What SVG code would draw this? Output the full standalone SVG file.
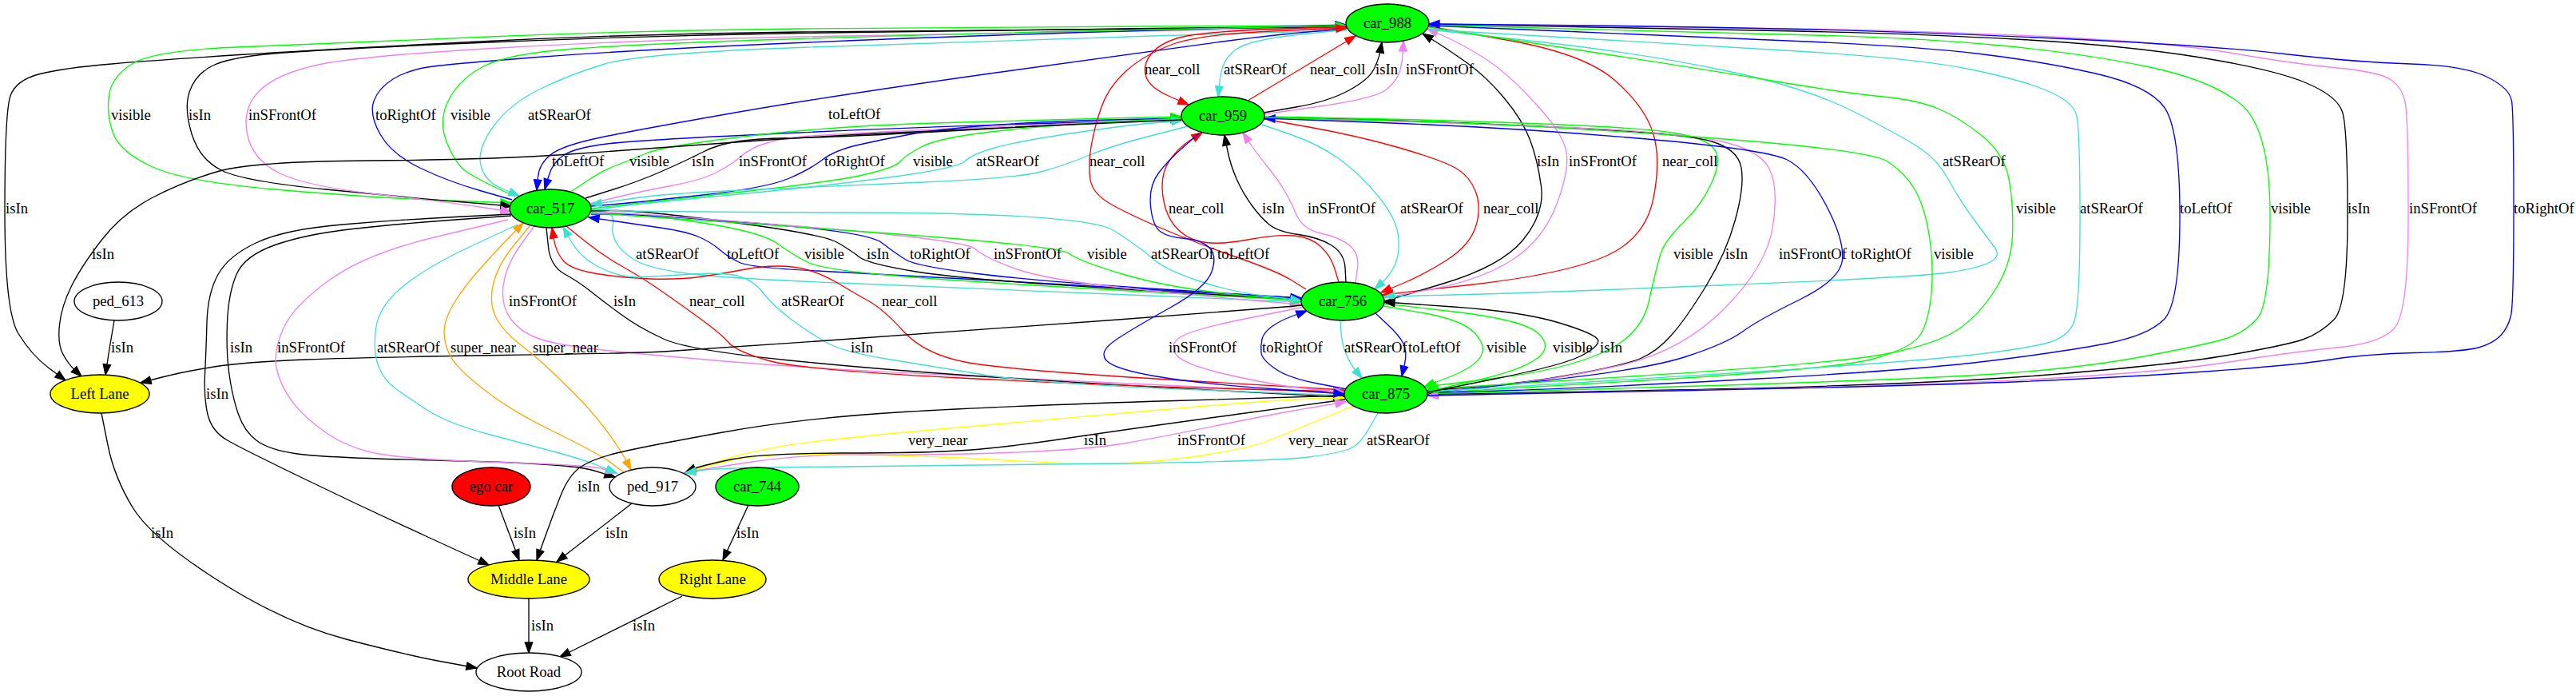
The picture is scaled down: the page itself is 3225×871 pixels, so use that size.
<svg xmlns="http://www.w3.org/2000/svg" width="3225" height="871" viewBox="0 0 3225 871">
<style>
.e{fill:none;stroke-width:1.33}
.k{stroke:#000;marker-end:url(#ak)}
.b{stroke:#00f;marker-end:url(#ab)}
.g{stroke:#0f0;marker-end:url(#ag)}
.r{stroke:#f00;marker-end:url(#ar)}
.c{stroke:#40e0d0;marker-end:url(#ac)}
.v{stroke:#ee82ee;marker-end:url(#av)}
.o{stroke:#ffa500;marker-end:url(#ao)}
.y{stroke:#ff0;marker-end:url(#ay)}
text{font-family:"Liberation Serif","Times New Roman",serif;font-size:18.67px;fill:#000}
.n text{text-anchor:middle}
.n ellipse{stroke:#000;stroke-width:1.33}
</style>
<defs>
<marker id="ak" markerUnits="userSpaceOnUse" markerWidth="16" markerHeight="12" refX="14" refY="6" orient="auto"><path d="M1,1.3 L14,6 L1,10.7 z" fill="#000" stroke="#000" stroke-width="1.3"/></marker>
<marker id="ab" markerUnits="userSpaceOnUse" markerWidth="16" markerHeight="12" refX="14" refY="6" orient="auto"><path d="M1,1.3 L14,6 L1,10.7 z" fill="#00f" stroke="#00f" stroke-width="1.3"/></marker>
<marker id="ag" markerUnits="userSpaceOnUse" markerWidth="16" markerHeight="12" refX="14" refY="6" orient="auto"><path d="M1,1.3 L14,6 L1,10.7 z" fill="#0f0" stroke="#0f0" stroke-width="1.3"/></marker>
<marker id="ar" markerUnits="userSpaceOnUse" markerWidth="16" markerHeight="12" refX="14" refY="6" orient="auto"><path d="M1,1.3 L14,6 L1,10.7 z" fill="#f00" stroke="#f00" stroke-width="1.3"/></marker>
<marker id="ac" markerUnits="userSpaceOnUse" markerWidth="16" markerHeight="12" refX="14" refY="6" orient="auto"><path d="M1,1.3 L14,6 L1,10.7 z" fill="#40e0d0" stroke="#40e0d0" stroke-width="1.3"/></marker>
<marker id="av" markerUnits="userSpaceOnUse" markerWidth="16" markerHeight="12" refX="14" refY="6" orient="auto"><path d="M1,1.3 L14,6 L1,10.7 z" fill="#ee82ee" stroke="#ee82ee" stroke-width="1.3"/></marker>
<marker id="ao" markerUnits="userSpaceOnUse" markerWidth="16" markerHeight="12" refX="14" refY="6" orient="auto"><path d="M1,1.3 L14,6 L1,10.7 z" fill="#ffa500" stroke="#ffa500" stroke-width="1.3"/></marker>
<marker id="ay" markerUnits="userSpaceOnUse" markerWidth="16" markerHeight="12" refX="14" refY="6" orient="auto"><path d="M1,1.3 L14,6 L1,10.7 z" fill="#ff0" stroke="#ff0" stroke-width="1.3"/></marker>
</defs>
<rect x="0" y="0" width="3225" height="871" fill="#fff"/>
<g id="edges">
<path class="e k" d="M1686,34 L1443,36 Q1200,38 1000,40 Q800,42 600,52 Q400,62 300,68.5 Q200,75 140,80 Q80,85 50,92.5 Q20,100 13,120 Q6,140 6,265 Q6,390 23,417.5 Q40,445 61,460.5 L82,476"/>
<path class="e g" d="M1686,32 L1443,33 Q1200,34 1000,36 Q800,38 600,46.5 Q400,55 297,59 Q194,63 167,79 Q140,95 136.5,119 Q133,143 141.5,166.5 Q150,190 190,208.5 Q230,227 344.5,237 Q459,247 549.5,250.5 L640,254"/>
<path class="e k" d="M1686,33 L1443,35.5 Q1200,38 1000,41.5 Q800,45 600,53.5 Q400,62 343,67 Q286,72 265.5,82.5 Q245,93 237.5,114 Q230,135 240,167.5 Q250,200 278,213.5 Q306,227 408,237 Q510,247 575,252.5 L640,258"/>
<path class="e v" d="M1686,35 L1443,38.5 Q1200,42 1000,46 Q800,50 625,60 Q450,70 398.5,81 Q347,92 325,113.5 Q303,135 309.5,167.5 Q316,200 349.5,216.5 Q383,233 472,243 Q561,253 600.5,259 L640,265"/>
<path class="e b" d="M641,250 L601,238.5 Q561,227 525.5,210 Q490,193 476,168 Q462,143 468,126.5 Q474,110 492,99 Q510,88 535.5,84 Q561,80 680.5,71 Q800,62 1000,53.5 Q1200,45 1442.5,38 L1685,31"/>
<path class="e g" d="M645,246 L622.5,235.5 Q600,225 585.5,216 Q571,207 559.5,178.5 Q548,150 562.5,123.5 Q577,97 607.5,82 Q638,67 719,61 Q800,55 1000,48.5 Q1200,42 1442.5,37 L1685,32"/>
<path class="e c" d="M1686,38 L1443,45 Q1200,52 1000,59.5 Q800,67 757,80 Q714,93 676,111.5 Q638,130 617.5,158.5 Q597,187 602,207 Q607,227 628.5,236 L650,245"/>
<path class="e b" d="M1686,36 L1643,39.5 Q1600,43 1526.5,52.5 Q1453,62 1246.5,91 Q1040,120 920,141 Q800,162 752,172 Q704,182 689.5,193.5 Q675,205 673.5,221.5 L672,238"/>
<path class="e b" d="M1480,150 L1340,153.5 Q1200,157 1000,166 Q800,175 760,180 Q720,185 706,194 Q692,203 687,220 L682,237"/>
<path class="e g" d="M716,239 L735.5,226 Q755,213 772.5,206.5 Q790,200 810,191.5 Q830,183 935,170.5 Q1040,158 1170,154 Q1300,150 1389.5,148 L1479,146"/>
<path class="e k" d="M733,248 L766.5,237.5 Q800,227 830.5,213.5 Q861,200 880.5,190 Q900,180 926.5,176.5 Q953,173 996.5,172.5 Q1040,172 1170,165 Q1300,158 1389.5,153 L1479,148"/>
<path class="e v" d="M738,255 L769,247.5 Q800,240 840,232.5 Q880,225 898.5,215 Q917,205 928.5,195 Q940,185 959.5,179 Q979,173 1009.5,170.5 Q1040,168 1170,162 Q1300,156 1389.5,152.5 L1479,149"/>
<path class="e b" d="M740,258 L770,255.5 Q800,253 880,244 Q960,235 987,223.5 Q1014,212 1029.5,200 Q1045,188 1076,181 Q1107,174 1140,168 Q1173,162 1236.5,157 Q1300,152 1389.5,150 L1479,148"/>
<path class="e g" d="M740,261 L770,257.5 Q800,254 920,241 Q1040,228 1080,219 Q1120,210 1126.5,202.5 Q1133,195 1153,184 Q1173,173 1240,165 Q1307,157 1393,152.5 L1479,148"/>
<path class="e c" d="M740,263 L770,259 Q800,255 920,243.5 Q1040,232 1120,221 Q1200,210 1208.5,201.5 Q1217,193 1245,185 Q1273,177 1340,167 Q1407,157 1443.5,154 L1480,151"/>
<path class="e c" d="M1487,158 L1438.5,170.5 Q1390,183 1361.5,195 Q1333,207 1303,215 Q1273,223 1156.5,228 Q1040,233 940,237.5 Q840,242 810,246 Q780,250 760,253 L740,256"/>
<path class="e r" d="M1686,33 L1593,36.5 Q1500,40 1475,47.5 Q1450,55 1440,69 Q1430,83 1435,96.5 Q1440,110 1464,120.5 L1488,131"/>
<path class="e c" d="M1686,37 L1624.5,43.5 Q1563,50 1546.5,62.5 Q1530,75 1527.5,98 L1525,121"/>
<path class="e r" d="M1562,126 L1697,45"/>
<path class="e k" d="M1582,141 L1622.5,134 Q1663,127 1688,113.5 Q1713,100 1719.5,87.5 Q1726,75 1728,64 L1730,53"/>
<path class="e v" d="M1582,143 L1652.5,133 Q1723,123 1736.5,111.5 Q1750,100 1753,87.5 Q1756,75 1756.5,63 L1757,51"/>
<path class="e r" d="M1635,362 L1617.5,351 Q1600,340 1550,322.5 Q1500,305 1458.5,287.5 Q1417,270 1392.5,256.5 Q1368,243 1365,225 Q1362,207 1366,183.5 Q1370,160 1378.5,135 Q1387,110 1408.5,90 Q1430,70 1465,56.5 Q1500,43 1593,39 L1686,35"/>
<path class="e r" d="M1676,353 L1671,336.5 Q1666,320 1653.5,308.5 Q1641,297 1620.5,295 Q1600,293 1562,300 Q1524,307 1503.5,302.5 Q1483,298 1470.5,282.5 Q1458,267 1455.5,242 Q1453,217 1464,201 Q1475,185 1490,175.5 L1505,166"/>
<path class="e k" d="M1685,353 L1684,335 Q1683,317 1667,307 Q1651,297 1625.5,293.5 Q1600,290 1589,281 Q1578,272 1566.5,256 Q1555,240 1547.5,222.5 Q1540,205 1536.5,187 L1533,169"/>
<path class="e v" d="M1697,354 L1699.5,335.5 Q1702,317 1689.5,307 Q1677,297 1654,292 Q1631,287 1623,268.5 Q1615,250 1607.5,237.5 Q1600,225 1586,207.5 Q1572,190 1564,178 L1556,166"/>
<path class="e c" d="M1580,156 L1615,168 Q1650,180 1676,198.5 Q1702,217 1725,245 Q1748,273 1750.5,295 Q1753,317 1746.5,331 Q1740,345 1730.5,353.5 L1721,362"/>
<path class="e r" d="M1583,149 L1641.5,159.5 Q1700,170 1752,185 Q1804,200 1822,210 Q1840,220 1847.5,240 Q1855,260 1847.5,283.5 Q1840,307 1812,325 Q1784,343 1756.5,354.5 L1729,366"/>
<path class="e r" d="M1789,33 L1886,50 Q1983,67 2021,100 Q2059,133 2069.5,166.5 Q2080,200 2069.5,250 Q2059,300 2008,321.5 Q1957,343 1844,356 L1731,369"/>
<path class="e k" d="M1733,377 L1806.5,355 Q1880,333 1907,300 Q1934,267 1929.5,233.5 Q1925,200 1915.5,175 Q1906,150 1883,122.5 Q1860,95 1835,77.5 Q1810,60 1795.5,51 L1781,42"/>
<path class="e v" d="M1733,373 L1794,361.5 Q1855,350 1893.5,325 Q1932,300 1948.5,256.5 Q1965,213 1961,190 Q1957,167 1921.5,128.5 Q1886,90 1858,72.5 Q1830,55 1808.5,45.5 L1787,36"/>
<path class="e c" d="M1789,37 L1924,52 Q2059,67 2161,88.5 Q2263,110 2321.5,140 Q2380,170 2403,185 Q2426,200 2439.5,225 Q2453,250 2471.5,275 Q2490,300 2497.5,310 Q2505,320 2492.5,327.5 Q2480,335 2440,341 Q2400,347 2153,357 Q1906,367 1819.5,369 L1733,371"/>
<path class="e g" d="M1583,146 L1691.5,148 Q1800,150 1929.5,155 Q2059,160 2097.5,166.5 Q2136,173 2146,186.5 Q2156,200 2143,228.5 Q2130,257 2107.5,278.5 Q2085,300 2079.5,316.5 Q2074,333 2064.5,376.5 Q2055,420 2006,441.5 Q1957,463 1871,473.5 L1785,484"/>
<path class="e k" d="M1583,147 L1691.5,149.5 Q1800,152 1955,159.5 Q2110,167 2143,177 Q2176,187 2180,210 Q2184,233 2172.5,275 Q2161,317 2135.5,358.5 Q2110,400 2092,420 Q2074,440 2054,448.5 Q2034,457 1970,468.5 Q1906,480 1846.5,484.5 L1787,489"/>
<path class="e v" d="M1583,148 L1691.5,150.5 Q1800,153 1950,159 Q2100,165 2151,176 Q2202,187 2214.5,210 Q2227,233 2219.5,283 Q2212,333 2158.5,386.5 Q2105,440 2027.5,457.5 Q1950,475 1868.5,483 L1787,491"/>
<path class="e b" d="M1787,492 L1923,477.5 Q2059,463 2110,446.5 Q2161,430 2181.5,415 Q2202,400 2253,375 Q2304,350 2306.5,325 Q2309,300 2286,256.5 Q2263,213 2237.5,200 Q2212,187 2056,173.5 Q1900,160 1741.5,154 L1583,148"/>
<path class="e g" d="M1583,147 L1741.5,151 Q1900,155 2120,171 Q2340,187 2363,202 Q2386,217 2398,238.5 Q2410,260 2415.5,296.5 Q2421,333 2418,366.5 Q2415,400 2405,417.5 Q2395,435 2347.5,448.5 Q2300,462 2043.5,477 L1787,492"/>
<path class="e g" d="M1789,34 L1949.5,58.5 Q2110,83 2212,100 Q2314,117 2357,121 Q2400,125 2426.5,136 Q2453,147 2481.5,170 Q2510,193 2515.5,226.5 Q2521,260 2519.5,295 Q2518,330 2498.5,361.5 Q2479,393 2452.5,411.5 Q2426,430 2363,442.5 Q2300,455 2043.5,471 L1787,487"/>
<path class="e c" d="M1789,37 L1944.5,46 Q2100,55 2250,64 Q2400,73 2465.5,86.5 Q2531,100 2563,113.5 Q2595,127 2599.5,143.5 Q2604,160 2604,271.5 Q2604,383 2596.5,403 Q2589,423 2560,430 Q2531,437 2465.5,444.5 Q2400,452 2200,465 Q2000,478 1893.5,484 L1787,490"/>
<path class="e b" d="M1789,32 L1944.5,38.5 Q2100,45 2250,51.5 Q2400,58 2479,67.5 Q2558,77 2623.5,92 Q2689,107 2709,133.5 Q2729,160 2729,270 Q2729,380 2709,400 Q2689,420 2636.5,430 Q2584,440 2492,451.5 Q2400,463 2200,474 Q2000,485 1893.5,488.5 L1787,492"/>
<path class="e g" d="M1789,31 L1944.5,35.5 Q2100,40 2250,43.5 Q2400,47 2505,57 Q2610,67 2689,83.5 Q2768,100 2805,130 Q2842,160 2842,270 Q2842,380 2826,398.5 Q2810,417 2784,424.5 Q2758,432 2684,446 Q2610,460 2505,467.5 Q2400,475 2093.5,484 L1787,493"/>
<path class="e k" d="M1789,30 L1944.5,33 Q2100,36 2250,39 Q2400,42 2531.5,49.5 Q2663,57 2755,72 Q2847,87 2886.5,103.5 Q2926,120 2932.5,140 Q2939,160 2939,271.5 Q2939,383 2922,400 Q2905,417 2884,424.5 Q2863,432 2789.5,444.5 Q2716,457 2558,469.5 Q2400,482 2093.5,488 L1787,494"/>
<path class="e v" d="M1789,30 L1944.5,32 Q2100,34 2250,36 Q2400,38 2558,45.5 Q2716,53 2794.5,66.5 Q2873,80 2926,85 Q2979,90 2993.5,100 Q3008,110 3011.5,130 Q3015,150 3015,271.5 Q3015,393 2997,411.5 Q2979,430 2926,435 Q2873,440 2794.5,452.5 Q2716,465 2558,474 Q2400,483 2093.5,489 L1787,495"/>
<path class="e b" d="M1787,495 L2093.5,489 Q2400,483 2531.5,477.5 Q2663,472 2768,464.5 Q2873,457 2918,450 Q2963,443 3023.5,441.5 Q3084,440 3102.5,435 Q3121,430 3130.5,420 Q3140,410 3143.5,395 Q3147,380 3147,261.5 Q3147,143 3144.5,126.5 Q3142,110 3113,96 Q3084,82 3018,80 Q2952,78 2860,67.5 Q2768,57 2584,48.5 Q2400,40 2250,36.5 Q2100,33 1944.5,31.5 L1789,30"/>
<path class="e c" d="M741,262 L755.5,265 Q770,268 767.5,280 Q765,292 771.5,303.5 Q778,315 794,325 Q810,335 855,341.5 Q900,348 1050,354 Q1200,360 1414.5,369 L1629,378"/>
<path class="e b" d="M1629,373 L1514.5,366.5 Q1400,360 1253,351.5 Q1106,343 1023,339 Q940,335 926,328.5 Q912,322 901,312.5 Q890,303 875,296.5 Q860,290 830,285.5 Q800,281 768.5,276.5 L737,272"/>
<path class="e g" d="M740,266 L770,266.5 Q800,267 876.5,278.5 Q953,290 973.5,305 Q994,320 1012,328.5 Q1030,337 1115,344.5 Q1200,352 1414.5,364 L1629,376"/>
<path class="e k" d="M740,264 L770,263.5 Q800,263 915,278 Q1030,293 1047.5,303 Q1065,313 1075.5,321.5 Q1086,330 1147,340 Q1208,350 1418.5,362.5 L1629,375"/>
<path class="e b" d="M740,268 L770,268 Q800,268 943,279 Q1086,290 1103.5,303.5 Q1121,317 1134,325 Q1147,333 1223.5,342.5 Q1300,352 1464.5,362.5 L1629,373"/>
<path class="e v" d="M740,266 L770,266.5 Q800,267 1004,283.5 Q1208,300 1221,311.5 Q1234,323 1272,336.5 Q1310,350 1405,360 Q1500,370 1564,375.5 L1628,381"/>
<path class="e g" d="M740,267 L770,268.5 Q800,270 1062.5,288.5 Q1325,307 1338,317 Q1351,327 1407,343.5 Q1463,360 1546,368.5 L1629,377"/>
<path class="e c" d="M741,262 L770.5,263.5 Q800,265 1080.5,266 Q1361,267 1394.5,288.5 Q1428,310 1443,323.5 Q1458,337 1499,351 Q1540,365 1584.5,370.5 L1629,376"/>
<path class="e v" d="M668,284 L650.5,308.5 Q633,333 630,358 Q627,383 640,400 Q653,417 676.5,424.5 Q700,432 750,437.5 Q800,443 900,451.5 Q1000,460 1200,470 Q1400,480 1541.5,486 L1683,492"/>
<path class="e k" d="M684,285 L686.5,309 Q689,333 707,343 Q725,353 740,365 Q755,377 777.5,393.5 Q800,410 830.5,424 Q861,438 983.5,450.5 Q1106,463 1253,472.5 Q1400,482 1541.5,489.5 L1683,497"/>
<path class="e r" d="M709,283 L732,301.5 Q755,320 777.5,332.5 Q800,345 820.5,359 Q841,373 871.5,395 Q902,417 912,428.5 Q922,440 963,451.5 Q1004,463 1202,473 Q1400,483 1541.5,486.5 L1683,490"/>
<path class="e r" d="M1683,488 L1471,475.5 Q1259,463 1208,453 Q1157,443 1131.5,415 Q1106,387 1088,377 Q1070,367 1050,355 Q1030,343 1012,338 Q994,333 973.5,333 Q953,333 927.5,338 Q902,343 876,346.5 Q850,350 815,349 Q780,348 747,342.5 Q714,337 705,326 Q696,315 693.5,300 L691,285"/>
<path class="e c" d="M1683,495 L1491.5,487.5 Q1300,480 1228.5,468.5 Q1157,457 1106,448.5 Q1055,440 1034.5,428.5 Q1014,417 991,400 Q968,383 955.5,366.5 Q943,350 922.5,345 Q902,340 851,344 Q800,348 782.5,345.5 Q765,343 745,331.5 Q725,320 715,302 L705,284"/>
<path class="e v" d="M1633,384 L1561,398.5 Q1489,413 1476,423 Q1463,433 1473.5,445 Q1484,457 1542,470 Q1600,483 1641.5,487 L1683,491"/>
<path class="e b" d="M1686,487 L1649.5,480 Q1613,473 1596.5,461.5 Q1580,450 1579,441.5 Q1578,433 1580,424.5 Q1582,416 1592.5,408.5 Q1603,401 1619.5,395 L1636,389"/>
<path class="e c" d="M1678,401 L1679,415.5 Q1680,430 1685,442.5 Q1690,455 1697.5,464 L1705,473"/>
<path class="e b" d="M1722,392 L1737,406 Q1752,420 1757,430 Q1762,440 1758.5,455.5 L1755,471"/>
<path class="e g" d="M1732,383 L1781,391.5 Q1830,400 1846,416.5 Q1862,433 1853.5,446.5 Q1845,460 1814,472 L1783,484"/>
<path class="e g" d="M1733,380 L1819.5,390 Q1906,400 1925,416.5 Q1944,433 1925,448 Q1906,463 1846.5,476.5 L1787,490"/>
<path class="e k" d="M1787,491 L1872,474 Q1957,457 1980,445 Q2003,433 2000.5,425.5 Q1998,418 1952,404 Q1906,390 1819.5,384 L1733,378"/>
<path class="e k" d="M1630,382 L1615,383.5 Q1600,385 1400,400 Q1200,415 1030.5,426.5 Q861,438 830.5,440 Q800,442 629.5,444.5 Q459,447 382.5,450 Q306,453 268,459 Q230,465 203,472 L176,479"/>
<path class="e k" d="M1479,150 L1339.5,156 Q1200,162 1100,167 Q1000,172 900,179.5 Q800,187 706,193.5 Q612,200 464,201 Q316,202 273,214.5 Q230,227 191.5,247 Q153,267 127.5,300 Q102,333 89.5,358 Q77,383 74.5,406.5 Q72,430 78.5,442.5 Q85,455 93.5,463 L102,471"/>
<path class="e k" d="M143,401 Q137,435 132,469"/>
<path class="e k" d="M127,517 L135,557 Q143,597 166,635 Q189,673 273,726.5 Q357,780 433.5,800 Q510,820 553.5,828 L597,836"/>
<path class="e k" d="M624,632 L650,701"/>
<path class="e k" d="M791,630 L697,703"/>
<path class="e k" d="M937,632 L905,701"/>
<path class="e k" d="M662,749 L662,817"/>
<path class="e k" d="M854,746 L701,822"/>
<path class="e k" d="M640,268 L570,271.5 Q500,275 428.5,281 Q357,287 321.5,303.5 Q286,320 273,343.5 Q260,367 259,403.5 Q258,440 256.5,468.5 Q255,497 260,518.5 Q265,540 285.5,551.5 Q306,563 382.5,600 Q459,637 535.5,672 L612,707"/>
<path class="e k" d="M640,270 L570,275 Q500,280 441.5,286.5 Q383,293 344.5,306.5 Q306,320 296,343.5 Q286,367 284.5,403.5 Q283,440 287,468.5 Q291,497 298.5,518.5 Q306,540 321.5,551.5 Q337,563 372.5,568 Q408,573 561,576.5 Q714,580 742,588.5 L770,597"/>
<path class="e v" d="M636,275 L547.5,296 Q459,317 413,350 Q367,383 354.5,411.5 Q342,440 346,460 Q350,480 364,500 Q378,520 406,540 Q434,560 472,567.5 Q510,575 625,578.5 Q740,582 756,587 L772,592"/>
<path class="e c" d="M648,281 L592,307 Q536,333 505,358 Q474,383 470.5,411.5 Q467,440 473.5,457.5 Q480,475 495,486 Q510,497 535.5,513.5 Q561,530 612,543.5 Q663,557 696.5,566 Q730,575 751,583.5 L772,592"/>
<path class="e o" d="M781,591 L760.5,576 Q740,563 689,538 Q638,513 604.5,486.5 Q571,460 563.5,445 Q556,430 556,415 Q556,400 568,380 Q580,360 600,337.5 Q620,315 637.5,297 L655,279"/>
<path class="e o" d="M663,283 L642.5,308 Q622,333 617,358 Q612,383 622.5,400 Q633,417 648,428.5 Q663,440 676,451.5 Q689,463 714.5,488 Q740,513 757.5,536.5 Q775,560 782.5,574 L790,588"/>
<path class="e y" d="M858,591 L905.5,575.5 Q953,560 1029.5,551.5 Q1106,543 1182.5,536.5 Q1259,530 1429.5,515 Q1600,500 1642,499 L1684,498"/>
<path class="e y" d="M1694,508 L1647,527.5 Q1600,547 1582.5,553.5 Q1565,560 1514,568.5 Q1463,577 1412,579.5 Q1361,582 1259,576 Q1157,570 1055,568.5 Q953,567 915,576 Q877,585 867.5,588.5 L858,592"/>
<path class="e k" d="M1684,500 L1548,518.5 Q1412,537 1335.5,548.5 Q1259,560 1208,563.5 Q1157,567 1055,567 Q953,567 915,575 Q877,583 867.5,587 L858,591"/>
<path class="e v" d="M858,591 L931,579.5 Q1004,568 1080.5,569 Q1157,570 1259,566.5 Q1361,563 1407,555 Q1453,547 1526.5,532 Q1600,517 1642.5,510 L1685,503"/>
<path class="e c" d="M1725,517 L1713.5,537 Q1702,557 1689,562 Q1676,567 1638,572 Q1600,577 1404,580 Q1208,583 1054,584 Q900,585 879,588.5 L858,592"/>
<path class="e k" d="M1683,495 L1471,501.5 Q1259,508 1131.5,515.5 Q1004,523 902,541.5 Q800,560 770,567.5 Q740,575 726,585 Q712,595 702,620 Q692,645 682,673 L672,701"/>
<path class="e b" d="M1501,167 L1482,183.5 Q1463,200 1450.5,216.5 Q1438,233 1440.5,258 Q1443,283 1453,290 Q1463,297 1483.5,298.5 Q1504,300 1514,310 Q1524,320 1517,340 Q1510,360 1465,385 Q1420,410 1397.5,425 Q1375,440 1385,451 Q1395,462 1447.5,471 Q1500,480 1591.5,486.5 L1683,493"/>
</g>
<g id="edge-labels">
<text x="1433" y="93">near_coll</text>
<text x="1532" y="93">atSRearOf</text>
<text x="1640" y="93">near_coll</text>
<text x="1722" y="93">isIn</text>
<text x="1760" y="93">inSFrontOf</text>
<text x="139" y="150">visible</text>
<text x="236" y="150">isIn</text>
<text x="311" y="150">inSFrontOf</text>
<text x="470" y="150">toRightOf</text>
<text x="564" y="150">visible</text>
<text x="661" y="150">atSRearOf</text>
<text x="1037" y="149">toLeftOf</text>
<text x="691" y="208">toLeftOf</text>
<text x="788" y="208">visible</text>
<text x="866" y="208">isIn</text>
<text x="925" y="208">inSFrontOf</text>
<text x="1032" y="208">toRightOf</text>
<text x="1143" y="208">visible</text>
<text x="1222" y="208">atSRearOf</text>
<text x="1364" y="208">near_coll</text>
<text x="1924" y="208">isIn</text>
<text x="1964" y="208">inSFrontOf</text>
<text x="2081" y="208">near_coll</text>
<text x="2432" y="208">atSRearOf</text>
<text x="7" y="267">isIn</text>
<text x="1463" y="267">near_coll</text>
<text x="1580" y="267">isIn</text>
<text x="1637" y="267">inSFrontOf</text>
<text x="1753" y="267">atSRearOf</text>
<text x="1857" y="267">near_coll</text>
<text x="2524" y="267">visible</text>
<text x="2604" y="267">atSRearOf</text>
<text x="2729" y="267">toLeftOf</text>
<text x="2843" y="267">visible</text>
<text x="2939" y="267">isIn</text>
<text x="3016" y="267">inSFrontOf</text>
<text x="3147" y="267">toRightOf</text>
<text x="115" y="324">isIn</text>
<text x="796" y="324">atSRearOf</text>
<text x="910" y="324">toLeftOf</text>
<text x="1007" y="324">visible</text>
<text x="1085" y="324">isIn</text>
<text x="1139" y="324">toRightOf</text>
<text x="1244" y="324">inSFrontOf</text>
<text x="1361" y="324">visible</text>
<text x="1441" y="324">atSRearOf</text>
<text x="1524" y="324">toLeftOf</text>
<text x="2095" y="324">visible</text>
<text x="2160" y="324">isIn</text>
<text x="2227" y="324">inSFrontOf</text>
<text x="2317" y="324">toRightOf</text>
<text x="2421" y="324">visible</text>
<text x="637" y="383">inSFrontOf</text>
<text x="768" y="383">isIn</text>
<text x="863" y="383">near_coll</text>
<text x="978" y="383">atSRearOf</text>
<text x="1104" y="383">near_coll</text>
<text x="139" y="441">isIn</text>
<text x="288" y="441">isIn</text>
<text x="347" y="441">inSFrontOf</text>
<text x="472" y="441">atSRearOf</text>
<text x="564" y="441">super_near</text>
<text x="667" y="441">super_near</text>
<text x="1065" y="441">isIn</text>
<text x="1463" y="441">inSFrontOf</text>
<text x="1580" y="441">toRightOf</text>
<text x="1683" y="441">atSRearOf</text>
<text x="1763" y="441">toLeftOf</text>
<text x="1861" y="441">visible</text>
<text x="1944" y="441">visible</text>
<text x="2003" y="441">isIn</text>
<text x="258" y="499">isIn</text>
<text x="1137" y="557">very_near</text>
<text x="1357" y="557">isIn</text>
<text x="1474" y="557">inSFrontOf</text>
<text x="1613" y="557">very_near</text>
<text x="1711" y="557">atSRearOf</text>
<text x="723" y="615">isIn</text>
<text x="189" y="673">isIn</text>
<text x="643" y="673">isIn</text>
<text x="758" y="673">isIn</text>
<text x="922" y="673">isIn</text>
<text x="665" y="789">isIn</text>
<text x="792" y="789">isIn</text>
</g>
<g id="node-car_988" class="n"><ellipse cx="1737" cy="29" rx="52" ry="24" fill="#0f0"/><text x="1737" y="35">car_988</text></g>
<g id="node-car_959" class="n"><ellipse cx="1531" cy="145" rx="52" ry="24" fill="#0f0"/><text x="1531" y="151">car_959</text></g>
<g id="node-car_517" class="n"><ellipse cx="689" cy="261" rx="51" ry="24" fill="#0f0"/><text x="689" y="267">car_517</text></g>
<g id="node-car_756" class="n"><ellipse cx="1681" cy="377" rx="52" ry="24" fill="#0f0"/><text x="1681" y="383">car_756</text></g>
<g id="node-car_875" class="n"><ellipse cx="1735" cy="493" rx="52" ry="24" fill="#0f0"/><text x="1735" y="499">car_875</text></g>
<g id="node-ped_613" class="n"><ellipse cx="148" cy="377" rx="55" ry="24" fill="#fff"/><text x="148" y="383">ped_613</text></g>
<g id="node-left_lane" class="n"><ellipse cx="125" cy="493" rx="62" ry="24" fill="#ff0"/><text x="125" y="499">Left Lane</text></g>
<g id="node-ego_car" class="n"><ellipse cx="615" cy="609" rx="49" ry="24" fill="#f00"/><text x="615" y="615">ego car</text></g>
<g id="node-ped_917" class="n"><ellipse cx="817" cy="609" rx="54" ry="24" fill="#fff"/><text x="817" y="615">ped_917</text></g>
<g id="node-car_744" class="n"><ellipse cx="948" cy="609" rx="52" ry="24" fill="#0f0"/><text x="948" y="615">car_744</text></g>
<g id="node-middle_lane" class="n"><ellipse cx="662" cy="725" rx="76" ry="24" fill="#ff0"/><text x="662" y="731">Middle Lane</text></g>
<g id="node-right_lane" class="n"><ellipse cx="892" cy="725" rx="67" ry="24" fill="#ff0"/><text x="892" y="731">Right Lane</text></g>
<g id="node-root_road" class="n"><ellipse cx="662" cy="841" rx="66" ry="24" fill="#fff"/><text x="662" y="847">Root Road</text></g>
</svg>
